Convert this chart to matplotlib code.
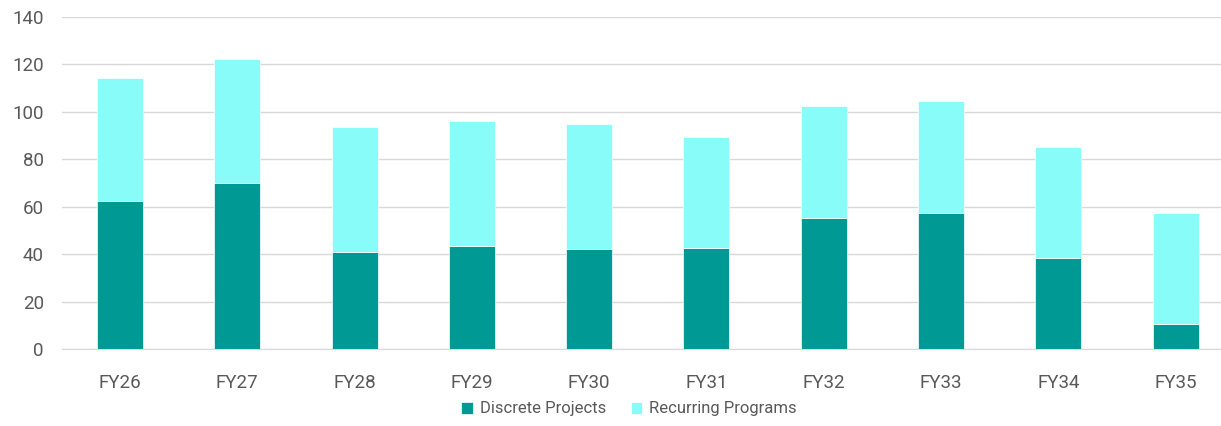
import matplotlib
matplotlib.use("Agg")
import matplotlib.pyplot as plt
import numpy as np

plt.rcParams['font.family'] = ['Roboto', 'DejaVu Sans']

years = ["FY26", "FY27", "FY28", "FY29", "FY30", "FY31", "FY32", "FY33", "FY34", "FY35"]
discrete = [62.4, 70.0, 40.9, 43.4, 42.2, 42.6, 55.3, 57.4, 38.4, 10.5]
totals = [114.3, 122.3, 93.6, 96.2, 94.9, 89.4, 102.5, 104.6, 85.2, 57.4]
recurring = [t - d for t, d in zip(totals, discrete)]

dark = "#009994"
light = "#88fcf8"
grey = "#595959"

fig = plt.figure(figsize=(12.21, 4.26), dpi=100)
ax = fig.add_axes([62 / 1221, 1 - 349 / 426, (1221 - 62) / 1221, (349 - 17) / 426])

x = np.arange(len(years))
ax.bar(x, discrete, width=0.392, color=dark, label="Discrete Projects", zorder=3,
       edgecolor="white", linewidth=0.5)
ax.bar(x, recurring, width=0.392, bottom=discrete, color=light, label="Recurring Programs",
       zorder=3, edgecolor="white", linewidth=0.5)

# category spacing ~117 px; last category runs slightly past the right edge
ax.set_xlim(-0.494, 9.386)
ax.set_ylim(0, 140)
ax.set_yticks(range(0, 141, 20))
ax.set_xticks(x)
ax.set_xticklabels(years)
ax.grid(axis="y", color="#d9d9d9", linewidth=1, zorder=0)
for s in ["top", "right", "left"]:
    ax.spines[s].set_visible(False)
ax.spines["bottom"].set_color("#d9d9d9")
ax.tick_params(axis="both", length=0, labelsize=13.5, colors=grey)
ax.tick_params(axis="x", pad=18)
ax.tick_params(axis="y", pad=13)

fig.legend(loc="center", bbox_to_anchor=(629 / 1221, 1 - 409 / 426), ncol=2, frameon=False,
           fontsize=12, labelcolor=grey, handlelength=0.7, handleheight=0.7,
           handletextpad=0.4, columnspacing=1.5)

fig.savefig("out.png", dpi=100)
